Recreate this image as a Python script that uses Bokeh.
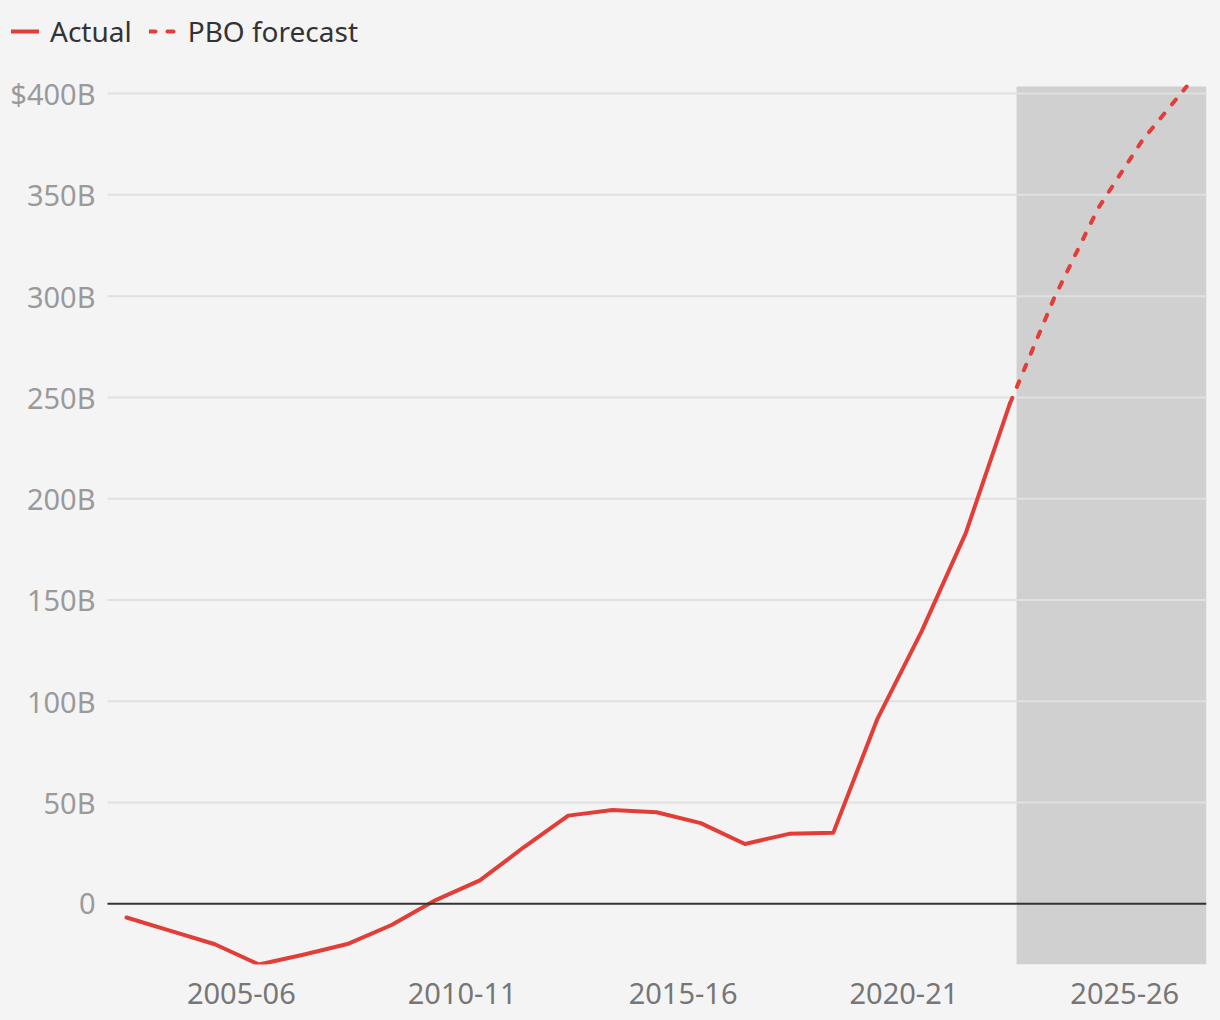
from bokeh.plotting import figure
from bokeh.core.properties import value
from bokeh.models import (ColumnDataSource, FixedTicker, BoxAnnotation,
                          Legend, LegendItem, Range1d, GlobalInlineStyleSheet)
from bokeh.embed import file_html
from bokeh.resources import INLINE

# ---------------- data ----------------
actual_years = ["2002-03", "2003-04", "2004-05", "2005-06", "2006-07", "2007-08",
                "2008-09", "2009-10", "2010-11", "2011-12", "2012-13", "2013-14",
                "2014-15", "2015-16", "2016-17", "2017-18", "2018-19", "2019-20",
                "2020-21", "2021-22", "2022-23"]
actual_values = [-6.8, -13.4, -20.0, -30.0, -25.2, -19.9, -10.5, 1.8, 11.5, 28.0,
                 43.5, 46.3, 45.2, 39.8, 29.5, 34.5, 35.0, 91.3, 134.5, 183.0, 247.0]

forecast_years = ["2022-23", "2023-24", "2024-25", "2025-26", "2026-27"]
forecast_values = [247.0, 299.0, 343.5, 377.0, 403.5]

x_tick_labels = ["2005-06", "2010-11", "2015-16", "2020-21", "2025-26"]
y_tick_values = [0, 50, 100, 150, 200, 250, 300, 350, 400]
y_tick_labels = ["0", "50B", "100B", "150B", "200B", "250B", "300B", "350B", "$400B"]
series_names = ["Actual", "PBO forecast"]

# ---------------- geometry / style ----------------
POINT_OFFSET = 0.4            # where a fiscal year's value sits relative to its start year
X0, X1 = 2001.97, 2026.85     # plotted x extent
Y0, Y1 = -30.0, 403.5         # plotted y extent
BAND_START = 2022.55          # start of the forecast shading
W, H = 1220, 1020
LEFT_PAD, TOP_PAD, RIGHT_PAD, BOTTOM_PAD = 107, 86, 14, 56

FONT = "Noto Sans"
RED = "#e23e37"
BG = "#f4f4f4"
FS = "29px"
LW = 4
DASH = "6 12"


def fy_x(label):
    return int(label[:4]) + POINT_OFFSET


# extend the ranges so the frame also covers the label/legend margins
frame_w = W - RIGHT_PAD
frame_h = H - BOTTOM_PAD
ppx = (frame_w - LEFT_PAD) / (X1 - X0)
ppy = (frame_h - TOP_PAD) / (Y1 - Y0)
x_range = Range1d(X0 - LEFT_PAD / ppx, X1)
y_range = Range1d(Y0, Y1 + TOP_PAD / ppy)

actual_src = ColumnDataSource(dict(x=[fy_x(y) for y in actual_years], y=actual_values,
                                   fy=actual_years))
forecast_src = ColumnDataSource(dict(x=[fy_x(y) for y in forecast_years], y=forecast_values,
                                     fy=forecast_years))
grid_src = ColumnDataSource(dict(y=y_tick_values, label=y_tick_labels))

p = figure(width=W, height=H, output_backend="svg", toolbar_location=None,
           x_range=x_range, y_range=y_range, y_axis_location=None,
           min_border_left=0, min_border_right=RIGHT_PAD, min_border_top=0,
           min_border_bottom=BOTTOM_PAD)
p.background_fill_color = BG
p.border_fill_color = BG
p.outline_line_color = None
p.xgrid.grid_line_color = None
p.ygrid.grid_line_color = None
p.stylesheets = [GlobalInlineStyleSheet(css="body{background:%s;}" % BG)]

# forecast band
p.add_layout(BoxAnnotation(left=BAND_START, top=Y1, fill_color="#d0d0d0", fill_alpha=1.0,
                           line_color=None, level="image"))

# horizontal gridlines (all but zero)
grid_vals = [v for v in y_tick_values if v != 0]
p.segment(x0=X0, x1=X1, y0=grid_vals, y1=grid_vals, line_color="#e0e0e0", line_width=2)

# y tick labels
p.text(x=X0, y="y", text="label", source=grid_src, x_offset=-12,
       text_align="right", text_baseline="middle", text_font=value(FONT),
       text_font_size=FS, text_color="#9a9a9a")

# lines
r_actual = p.line("x", "y", source=actual_src, line_color=RED, line_width=LW,
                  line_cap="round", line_join="round")
r_fore = p.line("x", "y", source=forecast_src, line_color=RED, line_width=LW,
                line_dash=DASH, line_cap="round", line_join="round")

# zero line
p.segment(x0=X0, x1=X1, y0=0, y1=0, line_color="#333333", line_width=2)

# x axis
p.xaxis.ticker = FixedTicker(ticks=[int(t[:4]) for t in x_tick_labels])
p.xaxis.major_label_overrides = {int(t[:4]): t for t in x_tick_labels}
p.xaxis.axis_line_color = None
p.xaxis.major_tick_line_color = None
p.xaxis.minor_tick_line_color = None
p.xaxis.major_tick_out = 0
p.xaxis.major_tick_in = 0
p.xaxis.minor_tick_out = 0
p.xaxis.minor_tick_in = 0
p.xaxis.major_label_text_font = FONT
p.xaxis.major_label_text_font_size = FS
p.xaxis.major_label_text_color = "#767676"
p.xaxis.major_label_standoff = 18

# legend
legend = Legend(items=[LegendItem(label=series_names[0], renderers=[r_actual]),
                       LegendItem(label=series_names[1], renderers=[r_fore])],
                location=(11, 914), orientation="horizontal",
                label_text_font=FONT, label_text_font_size="28px",
                label_text_color="#333333", glyph_width=28, label_standoff=11,
                spacing=17, padding=0, margin=0, border_line_color=None,
                background_fill_alpha=0)
p.add_layout(legend)

open("out.html", "w").write(file_html(p, INLINE))
